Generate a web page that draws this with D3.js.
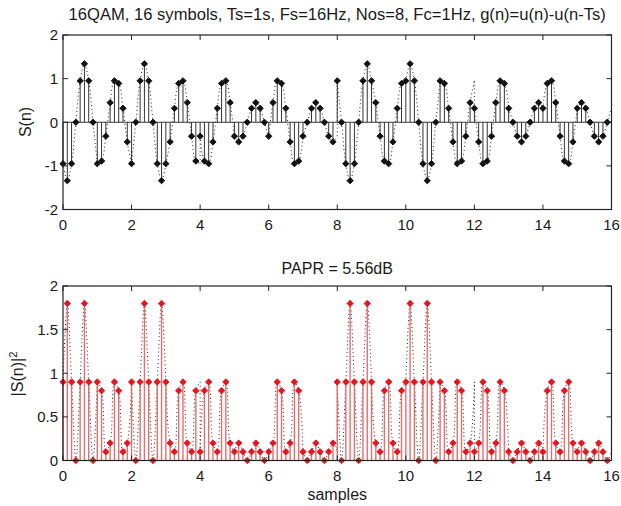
<!DOCTYPE html>
<html><head><meta charset="utf-8">
<script src="https://cdn.jsdelivr.net/npm/d3@7"></script>
<style>
html,body{margin:0;padding:0;background:#fff;}
svg{display:block;font-family:"Liberation Sans",Arial,sans-serif;}
</style></head>
<body>
<svg id="c" width="621" height="506"></svg>
<script>
// ---- data ----
const titleTop = "16QAM, 16 symbols, Ts=1s, Fs=16Hz, Nos=8, Fc=1Hz, g(n)=u(n)-u(n-Ts)";
const titleBottom = "PAPR = 5.56dB";
const xLabel = "samples";
const samplesPerSymbol = 8;
const xTicks = [0, 2, 4, 6, 8, 10, 12, 14, 16];
const yTicksTop = [-2, -1, 0, 1, 2];
const yTicksBottom = [0, 0.5, 1, 1.5, 2];

// S(n), 8 samples per symbol, 16 symbols
const sn = [
  -0.95,-1.34,-0.95,0,0.95,1.34,0.95,0,
  -0.95,-0.89,-0.32,0.45,0.95,0.89,0.32,-0.45,
  -0.95,0,0.95,1.34,0.95,0,-0.95,-1.34,
  -0.95,-0.45,0.32,0.89,0.95,0.45,-0.32,-0.89,
  -0.32,-0.89,-0.95,-0.45,0.32,0.89,0.95,0.45,
  -0.32,-0.45,-0.32,0,0.32,0.45,0.32,0,
  -0.32,0.45,0.95,0.89,0.32,-0.45,-0.95,-0.89,
  -0.32,0,0.32,0.45,0.32,0,-0.32,-0.45,
  0.95,0,-0.95,-1.34,-0.95,0,0.95,1.34,
  0.95,0.45,-0.32,-0.89,-0.95,-0.45,0.32,0.89,
  0.95,1.34,0.95,0,-0.95,-1.34,-0.95,0,
  0.95,0.89,0.32,-0.45,-0.95,-0.89,-0.32,0.45,
  0.32,-0.45,-0.95,-0.89,-0.32,0.45,0.95,0.89,
  0.32,0,-0.32,-0.45,-0.32,0,0.32,0.45,
  0.32,0.89,0.95,0.45,-0.32,-0.89,-0.95,-0.45,
  0.32,0.45,0.32,0,-0.32,-0.45,-0.32,0
];
// |S(n)|^2
const sn2 = [
  0.9,1.8,0.9,0,0.9,1.8,0.9,0,
  0.9,0.8,0.1,0.2,0.9,0.8,0.1,0.2,
  0.9,0,0.9,1.8,0.9,0,0.9,1.8,
  0.9,0.2,0.1,0.8,0.9,0.2,0.1,0.8,
  0.1,0.8,0.9,0.2,0.1,0.8,0.9,0.2,
  0.1,0.2,0.1,0,0.1,0.2,0.1,0,
  0.1,0.2,0.9,0.8,0.1,0.2,0.9,0.8,
  0.1,0,0.1,0.2,0.1,0,0.1,0.2,
  0.9,0,0.9,1.8,0.9,0,0.9,1.8,
  0.9,0.2,0.1,0.8,0.9,0.2,0.1,0.8,
  0.9,1.8,0.9,0,0.9,1.8,0.9,0,
  0.9,0.8,0.1,0.2,0.9,0.8,0.1,0.2,
  0.1,0.2,0.9,0.8,0.1,0.2,0.9,0.8,
  0.1,0,0.1,0.2,0.1,0,0.1,0.2,
  0.1,0.8,0.9,0.2,0.1,0.8,0.9,0.2,
  0.1,0.2,0.1,0,0.1,0.2,0.1,0
];
// value of the continuous (dotted) curve at the end of each symbol
const endTop = [-0.95,-0.95,-0.95,-0.95,-0.32,-0.32,-0.32,-0.32,0.95,0.95,0.95,0.95,0.32,0.32,0.32,0.32];
const endBottom = [0.9,0.9,0.9,0.9,0.1,0.1,0.1,0.1,0.9,0.9,0.9,0.9,0.1,0.1,0.1,0.1];

// ---- drawing ----
const svg = d3.select("#c");
const FONT = 16, TICKFONT = 15;
const txt = "#1a1a1a";
const L = 63, R = 611.5;
const x = d3.scaleLinear().domain([0, 16]).range([L, R]);

function panel(cfg) {
  const y = d3.scaleLinear().domain(cfg.ydom).range([cfg.bottom, cfg.top]);
  const g = svg.append("g");
  const pts = cfg.data.map((v, i) => ({t: i / samplesPerSymbol, v}));

  // dotted continuous curve, per symbol
  const nSym = cfg.data.length / samplesPerSymbol;
  const line = d3.line().x(d => x(d.t)).y(d => y(d.v)).curve(d3.curveCatmullRom.alpha(0.5));
  for (let k = 0; k < nSym; k++) {
    const seg = pts.slice(k * samplesPerSymbol, (k + 1) * samplesPerSymbol);
    seg.push({t: k + 1, v: cfg.ends[k]});
    g.append("path").attr("d", line(seg))
      .attr("fill", "none").attr("stroke", "#222").attr("stroke-width", 1)
      .attr("stroke-dasharray", "1,2.8");
    if (k + 1 < nSym) {
      g.append("line")
        .attr("x1", x(k + 1)).attr("x2", x(k + 1))
        .attr("y1", y(cfg.ends[k])).attr("y2", y(cfg.data[(k + 1) * samplesPerSymbol]))
        .attr("stroke", "#222").attr("stroke-dasharray", "1,2.8");
    }
  }
  // baseline
  g.append("line").attr("x1", L).attr("x2", R).attr("y1", y(0)).attr("y2", y(0))
    .attr("stroke", cfg.stemColor).attr("stroke-width", 1);
  // stems
  g.selectAll("line.stem").data(pts).join("line").attr("class", "stem")
    .attr("x1", d => x(d.t)).attr("x2", d => x(d.t))
    .attr("y1", y(0)).attr("y2", d => y(d.v))
    .attr("stroke", cfg.stemColor).attr("stroke-width", cfg.stemWidth);
  // markers
  const sym = d3.symbol().type(d3.symbolSquare).size(20);
  g.selectAll("path.mk").data(pts).join("path").attr("class", "mk")
    .attr("d", sym)
    .attr("transform", d => `translate(${x(d.t)},${y(d.v)}) rotate(45)`)
    .attr("fill", cfg.markColor).attr("stroke", cfg.markColor).attr("stroke-width", 0.9);

  // axes box
  const ax = svg.append("g");
  ax.append("rect").attr("x", L).attr("y", cfg.top).attr("width", R - L).attr("height", cfg.bottom - cfg.top)
    .attr("fill", "none").attr("stroke", "#222").attr("stroke-width", 1.2);
  const tl = 5;
  xTicks.forEach(t => {
    ax.append("line").attr("x1", x(t)).attr("x2", x(t)).attr("y1", cfg.bottom).attr("y2", cfg.bottom - tl).attr("stroke", "#222");
    ax.append("line").attr("x1", x(t)).attr("x2", x(t)).attr("y1", cfg.top).attr("y2", cfg.top + tl).attr("stroke", "#222");
    ax.append("text").attr("x", x(t)).attr("y", cfg.bottom + 20).attr("text-anchor", "middle")
      .attr("font-size", TICKFONT).attr("fill", txt).text(t);
  });
  cfg.yticks.forEach(t => {
    ax.append("line").attr("x1", L).attr("x2", L + tl).attr("y1", y(t)).attr("y2", y(t)).attr("stroke", "#222");
    ax.append("line").attr("x1", R).attr("x2", R - tl).attr("y1", y(t)).attr("y2", y(t)).attr("stroke", "#222");
    ax.append("text").attr("x", L - 5).attr("y", y(t)).attr("dy", "0.35em").attr("text-anchor", "end")
      .attr("font-size", TICKFONT).attr("fill", txt).text(t);
  });
  return y;
}

panel({data: sn, ends: endTop, ydom: [-2, 2], top: 35, bottom: 209.5, yticks: yTicksTop,
       stemColor: "#333", stemWidth: 1, markColor: "#111"});
panel({data: sn2, ends: endBottom, ydom: [0, 2], top: 286, bottom: 460.5, yticks: yTicksBottom,
       stemColor: "#e37070", stemWidth: 1.4, markColor: "#e8141e"});

// titles and labels
const tt = svg.append("text").attr("x", (L + R) / 2).attr("y", 20).attr("text-anchor", "middle")
  .attr("font-size", FONT).attr("fill", txt).text(titleTop);
const w = tt.node().getComputedTextLength();
if (w > 0) tt.attr("font-size", FONT * 538 / w);

svg.append("text").attr("x", (L + R) / 2).attr("y", 274).attr("text-anchor", "middle")
  .attr("font-size", FONT).attr("fill", txt).text(titleBottom);
svg.append("text").attr("x", (L + R) / 2).attr("y", 500).attr("text-anchor", "middle")
  .attr("font-size", FONT).attr("fill", txt).text(xLabel);

svg.append("text").attr("transform", "translate(31,122) rotate(-90)").attr("text-anchor", "middle")
  .attr("font-size", FONT).attr("fill", txt).text("S(n)");
const yl = svg.append("text").attr("transform", "translate(23,374) rotate(-90)").attr("text-anchor", "middle")
  .attr("font-size", FONT).attr("fill", txt);
yl.append("tspan").text("|S(n)|");
yl.append("tspan").attr("baseline-shift", "super").attr("font-size", FONT * 0.7).text("2");
</script>
</body></html>
